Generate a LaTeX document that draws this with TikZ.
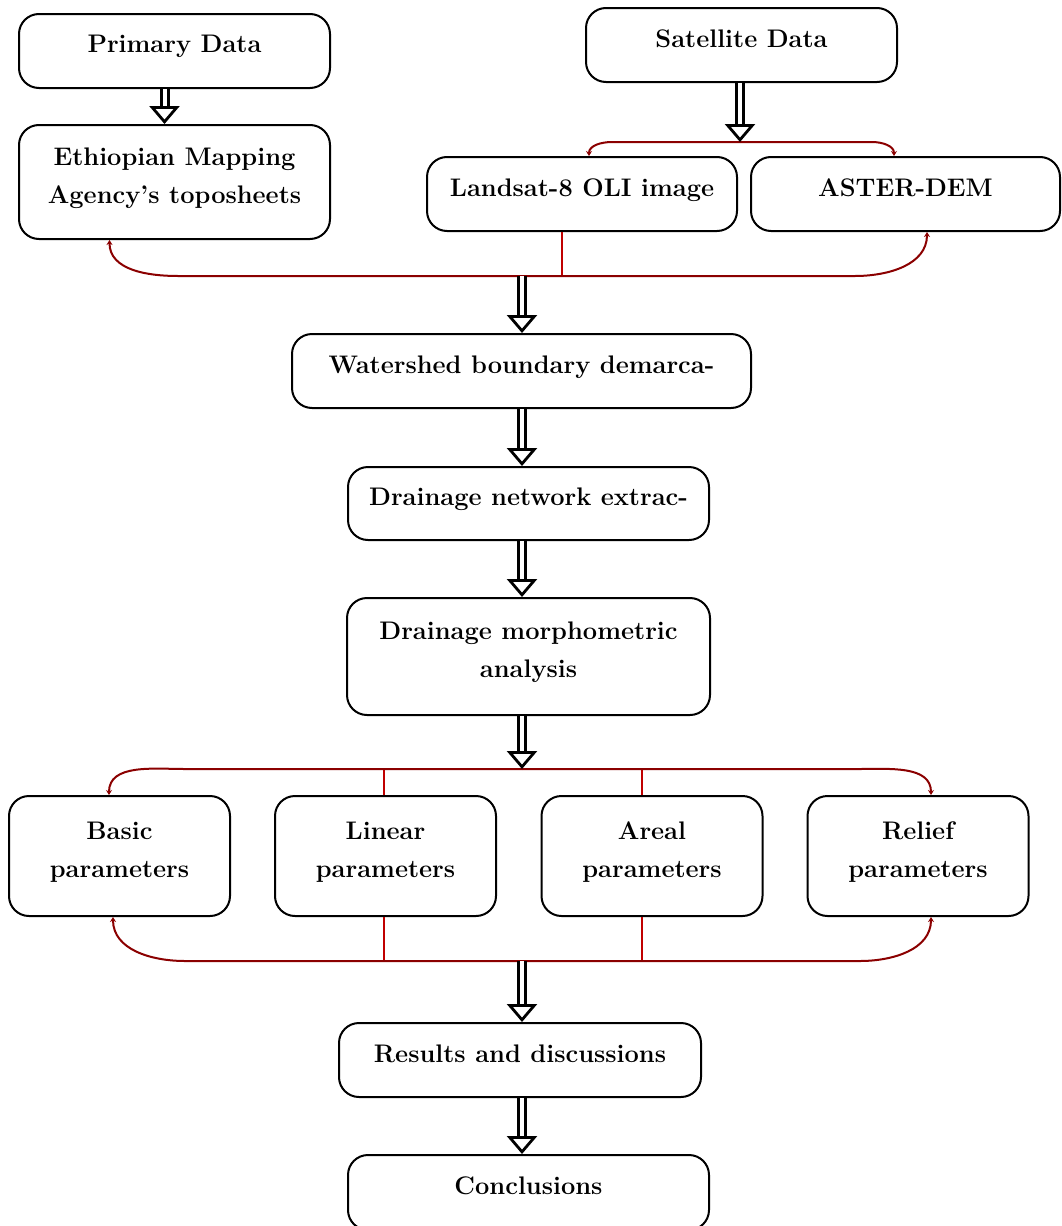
\documentclass[tikz,border=0pt]{standalone}
\usetikzlibrary{arrows.meta}
\definecolor{brk}{RGB}{139,0,0}
\definecolor{tee}{RGB}{192,0,0}
\tikzstyle{process} = [rectangle, rounded corners=10pt, line width=1pt, draw=black, text centered, align=center, inner sep=0pt, font=\fontsize{12.7}{19}\selectfont\bfseries]
\tikzstyle{onerow} = [text height=8pt, text depth=6pt]
\tikzstyle{tworow} = [text height=26pt, text depth=5pt]
\tikzstyle{arrow} = [line width=1.5pt, double=white, double distance=2pt, -{Triangle[open, length=9pt, width=15pt, line width=1.4pt]}]
\tikzstyle{bracket} = [brk, line width=1pt, -{Stealth[length=2.5pt, width=3pt]}]
\tikzstyle{joint} = [tee, line width=0.8pt]

\begin{document}
\begin{tikzpicture}[x=0.5pt, y=-0.5pt]
                \useasboundingbox (0,0) rectangle (1061,1226);
                % Nodes
                \node (primary) [process, onerow, minimum width=155.5pt, minimum height=37pt] at (174.5,51) {Primary Data};
                \node (ethio) [process, tworow, minimum width=155.5pt, minimum height=57pt] at (174.5,182) {Ethiopian Mapping\\Agency's toposheets};
                \node (satellite) [process, onerow, minimum width=155.5pt, minimum height=37pt] at (741.5,45) {Satellite Data};
                \node (landsat) [process, onerow, minimum width=155pt, minimum height=37pt] at (582,194) {Landsat-8 OLI image};
                \node (aster) [process, onerow, minimum width=154.5pt, minimum height=37pt] at (905.5,194) {ASTER-DEM};
                \node (watershed) [process, onerow, minimum width=229.5pt, minimum height=37pt] at (521.5,371) {Watershed boundary demarca-};
                \node (network) [process, onerow, minimum width=180.5pt, minimum height=36.5pt] at (528.5,503.5) {Drainage network extrac-};
                \node (morph) [process, tworow, minimum width=181.5pt, minimum height=58.5pt] at (528.5,656.5) {Drainage morphometric\\analysis};
                \node (basic) [process, tworow, minimum width=110.5pt, minimum height=60pt] at (119.5,856) {Basic\\parameters};
                \node (linear) [process, tworow, minimum width=110.5pt, minimum height=60pt] at (385.5,856) {Linear\\parameters};
                \node (areal) [process, tworow, minimum width=110.5pt, minimum height=60pt] at (652,856) {Areal\\parameters};
                \node (relief) [process, tworow, minimum width=110.5pt, minimum height=60pt] at (918,856) {Relief\\parameters};
                \node (results) [process, onerow, minimum width=181pt, minimum height=37pt] at (520,1060) {Results and discussions};
                \node (concl) [process, onerow, minimum width=180.5pt, minimum height=37.5pt] at (528.5,1192.5) {Conclusions};

                % Bracket joints
                \coordinate (satmid) at (740,142);
                \coordinate (mergemid) at (522,276);
                \coordinate (splitmid) at (522,769);
                \coordinate (joinmid) at (522,961);

                % Brackets
                \draw [bracket] (satmid) -- (612,142) to[out=180,in=90] ([xshift=3.5pt]landsat.north);
                \draw [bracket] (satmid) -- (872,142) to[out=0,in=90] ([xshift=-5.75pt]aster.north);
                \draw [joint] ([xshift=-10pt]landsat.south) -- ++(0,45);
                \draw [bracket] (mergemid) -- (178,276) to[out=180,in=-90] ([xshift=-32.5pt]ethio.south);
                \draw [bracket] (mergemid) -- (855,276) to[out=0,in=-90] ([xshift=10.75pt]aster.south);
                \draw [joint] ([xshift=-0.75pt]linear.north) -- ++(0,-27);
                \draw [joint] ([xshift=-5pt]areal.north) -- ++(0,-27);
                \draw [bracket] (splitmid) -- (185,769) to[out=180,in=90] ([xshift=-5.25pt]basic.north);
                \draw [bracket] (splitmid) -- (860,769) to[out=0,in=90] ([xshift=6.5pt]relief.north);
                \draw [joint] ([xshift=-0.75pt]linear.south) -- ++(0,45);
                \draw [joint] ([xshift=-5pt]areal.south) -- ++(0,45);
                \draw [bracket] (joinmid) -- (185,961) to[out=180,in=-90] ([xshift=-3.25pt]basic.south);
                \draw [bracket] (joinmid) -- (860,961) to[out=0,in=-90] ([xshift=6.5pt]relief.south);

                % Arrows
                \draw [arrow] ([xshift=-5pt]primary.south) -- ([xshift=-5pt]ethio.north);
                \draw [arrow] (satellite.south -| satmid) -- (satmid);
                \draw [arrow] (mergemid) -- (mergemid |- watershed.north);
                \draw [arrow] (watershed.south -| mergemid) -- (mergemid |- network.north);
                \draw [arrow] (network.south -| mergemid) -- (mergemid |- morph.north);
                \draw [arrow] (morph.south -| splitmid) -- (splitmid);
                \draw [arrow] (joinmid) -- (joinmid |- results.north);
                \draw [arrow] (results.south -| joinmid) -- (joinmid |- concl.north);
            \end{tikzpicture}
\end{document}
